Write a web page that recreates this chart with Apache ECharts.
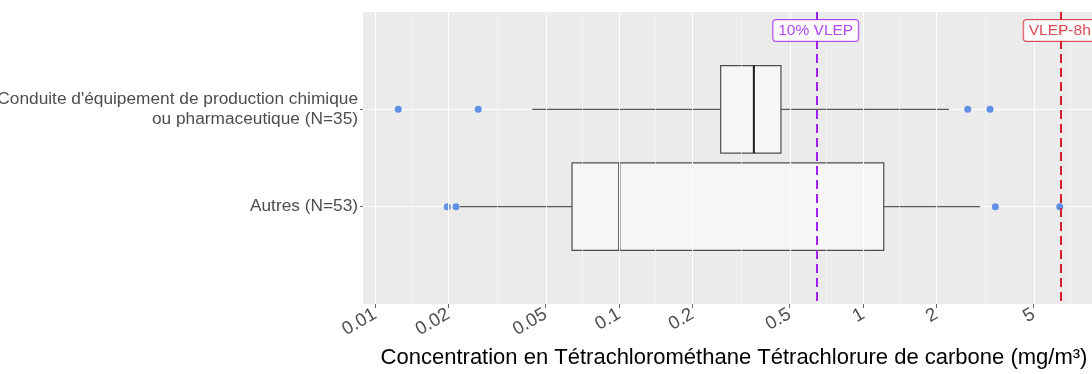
<!DOCTYPE html>
<html>
<head>
<meta charset="utf-8">
<script src="https://cdn.jsdelivr.net/npm/echarts@6/dist/echarts.min.js"></script>
<style>
html,body{margin:0;padding:0;background:#fff;}
#chart{width:1092px;height:374px;}
</style>
</head>
<body>
<div id="chart"></div>
<script>
// ---- data ----
const categories = ["Conduite d'équipement de production chimique\nou pharmaceutique (N=35)", "Autres (N=53)"];
const boxLow    = [0.0441, 0.0223];
const boxQ1     = [0.261, 0.0642];
const boxMedian = [0.357, 0.1003];
const boxQ3     = [0.461, 1.216];
const boxHigh   = [2.25, 3.02];
const outliersConduite = [0.01246, 0.0265, 2.686, 3.315];
const outliersAutres   = [0.01978, 0.02148, 3.485, 6.40];
const xBreaks      = [0.01, 0.02, 0.05, 0.1, 0.2, 0.5, 1, 2, 5];
const xBreakLabels = ['0.01', '0.02', '0.05', '0.1', '0.2', '0.5', '1', '2', '5'];
const refValues = [0.64, 6.4];
const refLabels = ['10% VLEP', 'VLEP-8h'];
const refColors = ['#a020f0', '#d3202c'];
const xTitle = 'Concentration en Tétrachlorométhane Tétrachlorure de carbone (mg/m³)';
const xLimits = [0.00893, 9.81];

// ---- build ----
const L = v => Math.log10(v);
const breakLogs = xBreaks.map(L);
const extBreaks = breakLogs.concat([breakLogs[breakLogs.length - 1] + (breakLogs[1] - breakLogs[0])]);
const minorLogs = [];
for (let i = 0; i < extBreaks.length - 1; i++) minorLogs.push((extBreaks[i] + extBreaks[i + 1]) / 2);

const boxData = categories.map((c, i) => [i + 1, L(boxLow[i]), L(boxQ1[i]), L(boxMedian[i]), L(boxQ3[i]), L(boxHigh[i])]);
const outlierData = [];
outliersConduite.forEach(v => outlierData.push([L(v), 1]));
outliersAutres.forEach(v => outlierData.push([L(v), 2]));

const FONT = '"Liberation Sans", Arial, sans-serif';

const chart = echarts.init(document.getElementById('chart'), null, {renderer: 'canvas'});
const option = {
  animation: false,
  backgroundColor: '#ffffff',
  grid: {left: 363, width: 742, top: 12, bottom: 70, show: true, backgroundColor: '#ebebeb', borderWidth: 0,
         containLabel: false, outerBoundsMode: 'none'},
  xAxis: {
    type: 'value', min: L(xLimits[0]), max: L(xLimits[1]),
    axisLine: {show: false, onZero: false},
    splitLine: {show: false},
    axisTick: {show: true, customValues: breakLogs, length: 4, lineStyle: {color: '#666', width: 1}},
    axisLabel: {
      customValues: breakLogs, rotate: 30, margin: 9,
      color: '#4d4d4d', fontSize: 18.5, fontFamily: FONT,
      formatter: v => { const k = breakLogs.findIndex(b => Math.abs(b - v) < 1e-6); return k >= 0 ? xBreakLabels[k] : ''; }
    },
    name: xTitle, nameLocation: 'middle', nameGap: 43,
    nameTextStyle: {color: '#000', fontSize: 22, fontFamily: FONT}
  },
  yAxis: {
    type: 'value', min: 0, max: 3, interval: 1, inverse: true,
    axisLine: {show: false, onZero: false},
    splitLine: {show: true, lineStyle: {color: '#ffffff', width: 1}},
    axisTick: {show: true, customValues: [1, 2], length: 3, lineStyle: {color: '#666', width: 1}},
    axisLabel: {
      customValues: [1, 2], margin: 5, color: '#4d4d4d', fontSize: 17.3, fontFamily: FONT, lineHeight: 20,
      formatter: v => categories[Math.round(v) - 1] || ''
    }
  },
  series: [
    {
      type: 'line', data: [], z: 1, silent: true,
      markLine: {
        silent: true, symbol: ['none', 'none'], label: {show: false}, animation: false,
        data: minorLogs.map(v => ({xAxis: v, lineStyle: {color: '#f6f6f6', width: 0.6, type: 'solid'}}))
          .concat(breakLogs.map(v => ({xAxis: v, lineStyle: {color: '#ffffff', width: 1.1, type: 'solid'}})))
      }
    },
    {
      type: 'custom', z: 3,
      data: boxData,
      encode: {x: [1, 2, 3, 4, 5], y: 0},
      renderItem: function (params, api) {
        const cat = api.value(0);
        const pLow = api.coord([api.value(1), cat]);
        const pQ1 = api.coord([api.value(2), cat]);
        const pMed = api.coord([api.value(3), cat]);
        const pQ3 = api.coord([api.value(4), cat]);
        const pHigh = api.coord([api.value(5), cat]);
        const h = api.size([0, 1])[1] * 0.9;
        const y = pMed[1];
        return {
          type: 'group',
          children: [
            {type: 'line', shape: {x1: pLow[0], y1: y, x2: pQ1[0], y2: y}, style: {stroke: '#595959', lineWidth: 1.2}},
            {type: 'line', shape: {x1: pQ3[0], y1: y, x2: pHigh[0], y2: y}, style: {stroke: '#595959', lineWidth: 1.2}},
            {type: 'rect', shape: {x: pQ1[0], y: y - h / 2, width: pQ3[0] - pQ1[0], height: h}, style: {fill: '#f6f6f6', stroke: '#4d4d4d', lineWidth: 1.2}},
            {type: 'line', shape: {x1: pMed[0], y1: y - h / 2, x2: pMed[0], y2: y + h / 2}, style: {stroke: '#1a1a1a', lineWidth: 2}}
          ]
        };
      }
    },
    {
      type: 'scatter', z: 4, data: outlierData, symbolSize: 7,
      itemStyle: {color: '#6090e6', opacity: 1}
    },
    {
      type: 'line', data: [], z: 5, silent: true,
      markLine: {
        silent: true, symbol: ['none', 'none'], label: {show: false}, animation: false,
        data: refValues.map((v, i) => ({xAxis: L(v), lineStyle: {color: refColors[i], width: 2, type: [9, 5]}}))
      }
    },
    {
      type: 'scatter', z: 6, symbol: 'rect', symbolSize: 1, silent: true,
      itemStyle: {color: 'rgba(0,0,0,0)'},
      data: refValues.map((v, i) => ({
        value: [L(v), 0.19],
        label: {
          show: true, position: 'inside', formatter: refLabels[i],
          color: refColors[i], fontSize: 15.5, fontFamily: FONT,
          backgroundColor: '#ffffff', borderColor: refColors[i], borderWidth: 1, borderRadius: 3,
          padding: [3, 5, 2, 5]
        }
      }))
    }
  ]
};
chart.setOption(option);
</script>
</body>
</html>
